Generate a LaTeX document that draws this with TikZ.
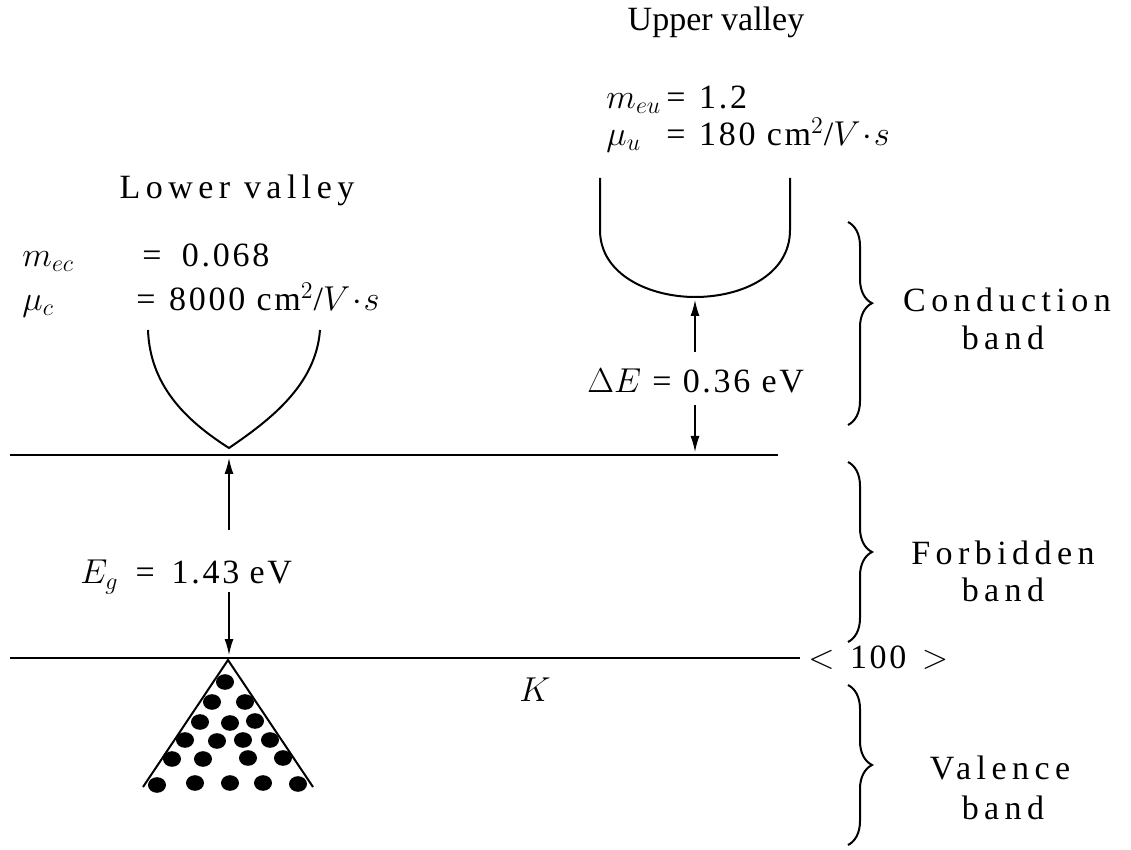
\documentclass[tikz,border=0pt]{standalone}
\usepackage{amsmath}
\usepackage{fontspec}
\setmainfont{Liberation Serif}
\newfontfamily\widefont[LetterSpace=16]{Liberation Serif}
\newfontfamily\numfont[LetterSpace=8]{Liberation Serif}
\usetikzlibrary{arrows.meta,decorations.pathreplacing}

\begin{document}
\begin{tikzpicture}[
	x=0.5pt, y=-0.5pt,
	every node/.style={
		font=\fontsize{17}{20}\selectfont,
		inner sep=0pt
	},
	bandtext/.style={font=\fontsize{17}{20}\selectfont\widefont},
	valtext/.style={font=\fontsize{17}{20}\selectfont\numfont, anchor=west},
	level/.style={line width=1pt},
	gap/.style={line width=0.7pt, -{Latex[length=8pt,width=4.5pt]}},
	bracket/.style={line width=1pt, decorate,
		decoration={brace, amplitude=12pt, aspect=#1}},
	bracket/.default=0.5
	]
	\useasboundingbox (0,0) rectangle (1131,850);
	
	% Band edges
	\coordinate (cbl) at (10,455);
	\coordinate (cbr) at (778,455);
	\coordinate (vbl) at (10,658);
	\coordinate (vbr) at (800,658);
	\draw[level] (cbl) -- (cbr);
	\draw[level] (vbl) -- (vbr);
	\node[anchor=west] (dir) at (808,658) {$<$\hspace{0.45em}{\numfont 100}\hspace{0.45em}$>$};
	\node (K) at (535,690) {$K$};
	
	% Lower valley
	\node (lowtitle) at (237,190) {\widefont Lower valley};
	\node[valtext] (mec) at (22,258) {\makebox[60pt][l]{$m_{ec}$}=\hspace{0.6em}0.068};
	\node[valtext] (muc) at (22,300) {\makebox[57pt][l]{$\mu_c$}=\hspace{0.4em}8000 cm$^2$/$V\!\cdot\!s$};
	\draw[level] (148,330) .. controls (150,385) and (185,420) .. (229,448)
		.. controls (270,420) and (316,385) .. (320,330);
	
	% Upper valley
	\node (uptitle) at (716,22) {Upper valley};
	\node[valtext] (meu) at (606,100) {\makebox[30pt][l]{$m_{eu}$}=\hspace{0.4em}1.2};
	\node[valtext] (muu) at (606,135) {\makebox[30pt][l]{$\mu_u$}=\hspace{0.4em}180 cm$^2$/$V\!\cdot\!s$};
	\draw[level] (600,178) -- (600,230) .. controls (600,275) and (650,297) .. (695,297)
		.. controls (742,297) and (790,275) .. (790,230) -- (790,178);
	
	% Energy gap
	\node[valtext] (eg) at (80,577) {$E_g$\hspace{0.5em}=\hspace{0.5em}1.43\hspace{0.3em}eV};
	\coordinate (eg1) at (229,530);
	\coordinate (eg2) at (229,458);
	\coordinate (eg3) at (229,592);
	\coordinate (eg4) at (229,655);
	\draw[gap] (eg1) -- (eg2);
	\draw[gap] (eg3) -- (eg4);
	
	% Valley separation
	\node[valtext] (de) at (587,381) {$\Delta E$ = 0.36 eV};
	\coordinate (de1) at (695,352);
	\coordinate (de2) at (695,300);
	\coordinate (de3) at (695,405);
	\coordinate (de4) at (695,452);
	\draw[gap] (de1) -- (de2);
	\draw[gap] (de3) -- (de4);
	
	% Valence band holes
	\coordinate (apex) at (228,660);
	\draw[level] (143,787) -- (apex) -- (313,787);
	\foreach \px/\py in {225/682, 212/702, 245/702, 200/722, 230/723, 255/721,
		185/740, 217/741, 243/740, 270/740, 172/759, 203/759, 248/758, 283/758,
		157/785, 195/783, 230/783, 263/783, 298/784}
	\fill (\px,\py) ellipse [x radius=4.5pt, y radius=3.9pt];
	
	% Braces
	\draw[bracket=0.4] (848,222) -- (848,425);
	\draw[bracket] (848,462) -- (848,642);
	\draw[bracket] (848,685) -- (848,845);
	\node[bandtext] (cond) at (1007,300) {Conduction};
	\node[bandtext] (condb) at (1003,338) {band};
	\node[bandtext] (forb) at (1003,553) {Forbidden};
	\node[bandtext] (forbb) at (1003,590) {band};
	\node[bandtext] (val) at (1000,768) {Valence};
	\node[bandtext] (valb) at (1003,808) {band};
\end{tikzpicture}
\end{document}
